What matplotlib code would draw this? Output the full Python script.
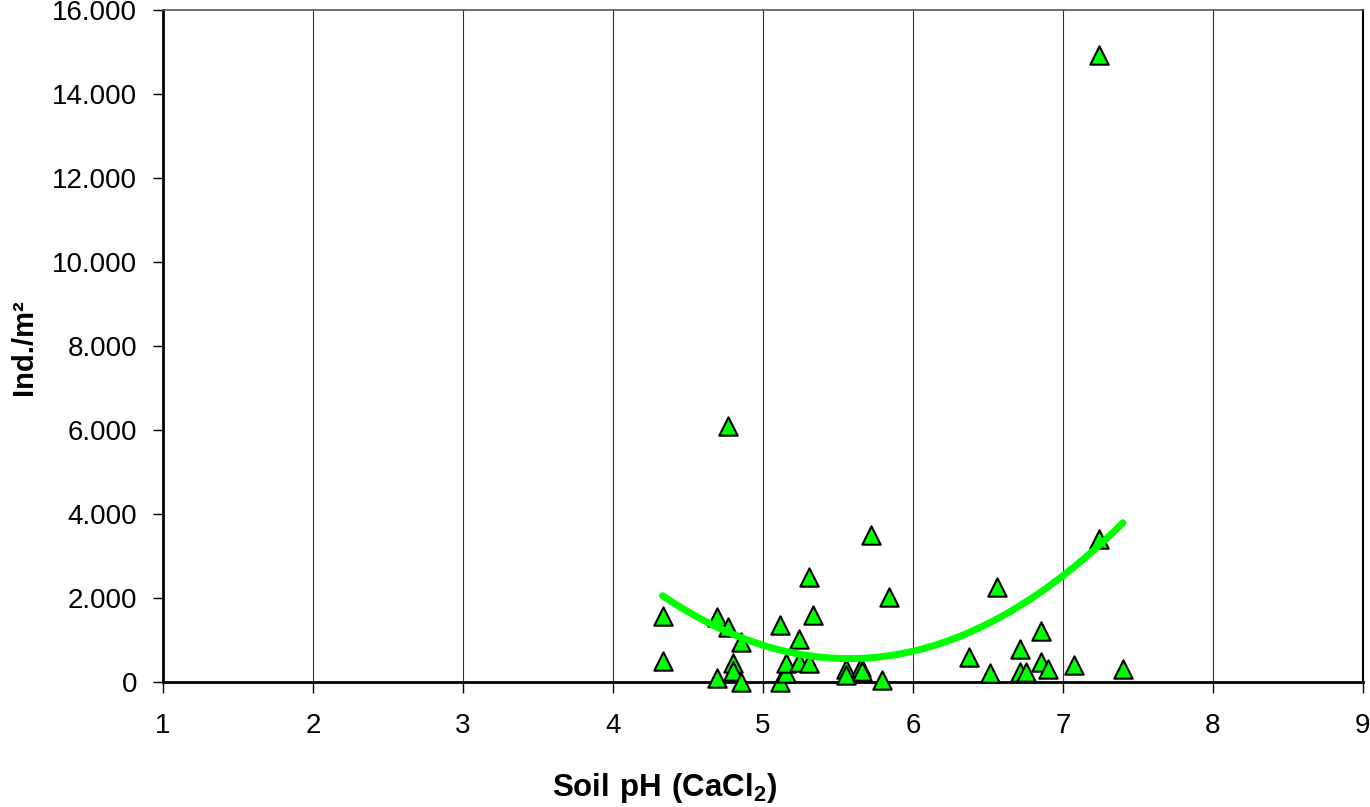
import numpy as np
import matplotlib
matplotlib.use('Agg')
import matplotlib.pyplot as plt
from matplotlib.ticker import FuncFormatter

plt.rcParams['font.family'] = ['Liberation Sans', 'DejaVu Sans']
plt.rcParams['mathtext.fontset'] = 'custom'
plt.rcParams['mathtext.bf'] = 'Liberation Sans:bold'
plt.rcParams['mathtext.rm'] = 'Liberation Sans'

# soil pH and individuals per m2
ph = [4.33, 4.33, 4.69, 4.69, 4.77, 4.77, 4.80, 4.80, 4.85, 4.85,
      5.11, 5.11, 5.15, 5.15, 5.24, 5.24, 5.31, 5.31, 5.33,
      5.55, 5.55, 5.65, 5.66, 5.72, 5.79, 5.84,
      6.37, 6.51, 6.56, 6.71, 6.71, 6.75, 6.85, 6.85, 6.90,
      7.07, 7.24, 7.24, 7.40]
ind = [1571, 500, 95, 1548, 1310, 6095, 452, 262, 952, 0,
       1357, 0, 214, 452, 1024, 476, 2500, 452, 1595,
       310, 167, 357, 262, 3500, 48, 2024,
       595, 214, 2262, 786, 238, 238, 1214, 476, 310,
       405, 14929, 3405, 310]

xticks = list(range(1, 10))
yticks = list(range(0, 16001, 2000))

fig = plt.figure(figsize=(13.7, 8.07), dpi=100)
ax = fig.add_axes([163/1370, 1 - 682/807, 1200/1370, 672/807])

ax.scatter(ph, ind, marker='^', s=175, facecolor='#00ff00', edgecolor='black',
           linewidth=1.5, zorder=3, clip_on=False)

# 2nd order polynomial trend line like the excel one
coef = np.polyfit(ph, ind, 2)
xs = np.linspace(min(ph), max(ph), 200)
ax.plot(xs, np.polyval(coef, xs), color='#00ff00', lw=5, zorder=4,
        solid_capstyle='round')

ax.set_xlim(1, 9)
ax.set_ylim(0, 16000)
ax.set_xticks(xticks)
ax.set_yticks(yticks)
ax.yaxis.set_major_formatter(FuncFormatter(lambda v, p: f'{int(v):,}'.replace(',', '.')))
ax.xaxis.grid(True, color='#333333', lw=0.8)
ax.set_axisbelow(True)

ax.tick_params(axis='x', direction='out', length=8, width=1, pad=14, labelsize=20)
ax.tick_params(axis='y', direction='out', length=7.5, width=1, pad=11, labelsize=20)

for s in ['left', 'bottom']:
    ax.spines[s].set_linewidth(2)
ax.spines['top'].set_linewidth(1.2)
ax.spines['top'].set_color('#555555')
ax.spines['right'].set_linewidth(1.5)

ax.set_xlabel(r'$\mathbf{Soil\ pH\ (CaCl_2)}$', fontsize=22.5)
ax.xaxis.set_label_coords(0.418, -0.133)
ax.set_ylabel('Ind./m²', fontsize=21, fontweight='bold')
ax.yaxis.set_label_coords(-0.104, 0.4985)

fig.savefig('out.png', dpi=100)
